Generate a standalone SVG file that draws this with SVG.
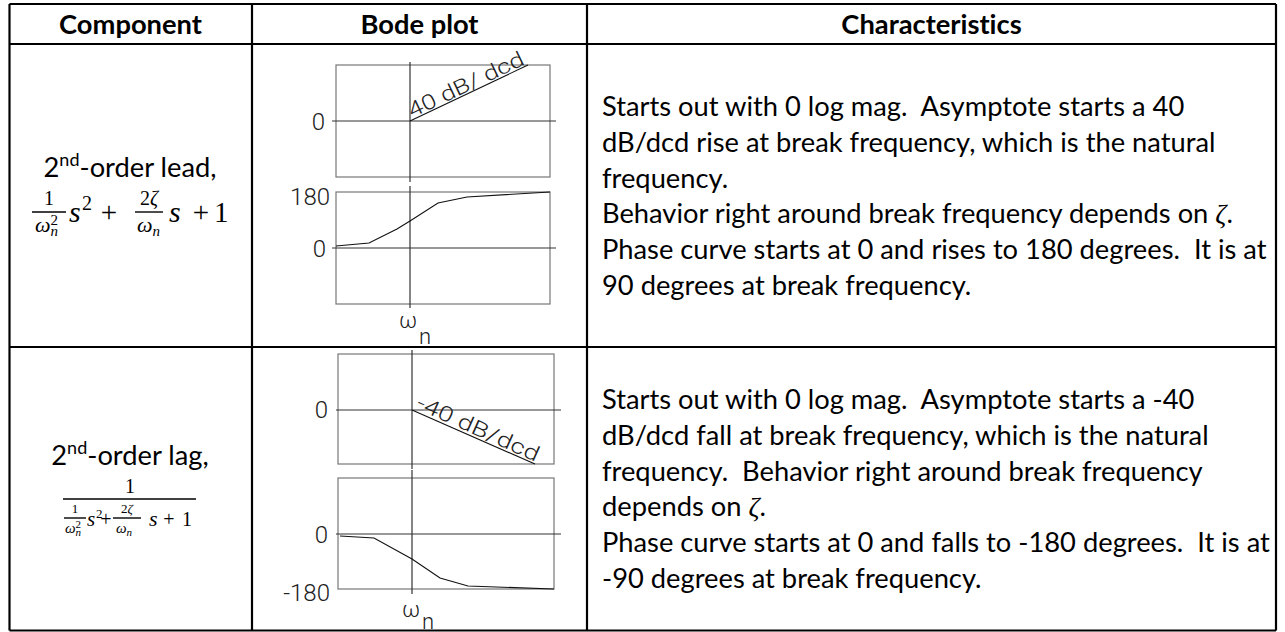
<svg xmlns="http://www.w3.org/2000/svg" width="1285" height="632" viewBox="0 0 1285 632">
<style>
  text{font-variant-ligatures:none}
  .grid{stroke:#000;stroke-width:2.2;fill:none}
  .hdr{font-family:Lato,'Liberation Sans',sans-serif;font-weight:700;font-size:27.3px;fill:#000;text-anchor:middle}
  .body{font-family:Lato,'Liberation Sans',sans-serif;font-size:27.3px;fill:#000;white-space:pre}
  .cap{font-family:Lato,'Liberation Sans',sans-serif;font-size:27.3px;fill:#000;text-anchor:middle}
  .box{fill:none;stroke:#777;stroke-width:1.2}
  .axis{stroke:#333;stroke-width:1.2}
  .curve{fill:none;stroke:#111;stroke-width:1.1}
  .tick{font-family:Roboto,'DejaVu Sans',sans-serif;font-weight:300;font-size:24px;fill:#222;text-anchor:end}
  .slant{font-family:Roboto,'DejaVu Sans',sans-serif;font-weight:300;font-size:21px;fill:#222}
  .om{font-family:Roboto,'DejaVu Sans',sans-serif;font-weight:300;font-size:22px;fill:#222}
  .m{font-family:'Liberation Serif',serif;fill:#000}
  .mi{font-family:'Liberation Serif',serif;font-style:italic;fill:#000}
  .up{font-style:normal}
  .zeta{font-family:'Liberation Serif',serif;font-style:italic}
  .bar{stroke:#000;stroke-width:1.4}
</style>
<rect width="1285" height="632" fill="#fff"/>

<!-- table rules -->
<g id="table" class="grid">
  <line x1="9.5" y1="4" x2="1276" y2="4"/>
  <line x1="9.5" y1="44" x2="1276" y2="44"/>
  <line x1="9.5" y1="347" x2="1276" y2="347"/>
  <line x1="9.5" y1="630.5" x2="1276" y2="630.5"/>
  <line x1="9.5" y1="4" x2="9.5" y2="630.5"/>
  <line x1="252" y1="4" x2="252" y2="630.5"/>
  <line x1="587" y1="4" x2="587" y2="630.5"/>
  <line x1="1276" y1="4" x2="1276" y2="630.5"/>
</g>

<!-- header cells -->
<g id="header">
  <text class="hdr" x="130.5" y="34">Component</text>
  <text class="hdr" x="419.5" y="34">Bode plot</text>
  <text class="hdr" x="931.5" y="34">Characteristics</text>
</g>

<!-- row 1: second-order lead, (1/wn^2) s^2 + (2 zeta/wn) s + 1 -->
<g id="lead-component">
  <text class="cap" x="130" y="177">2<tspan font-size="18" dy="-11">nd</tspan><tspan dy="11">-order lead,</tspan></text>
  <text class="m" x="49" y="205" font-size="20" text-anchor="middle">1</text>
  <line class="bar" x1="32" y1="212" x2="66" y2="212"/>
  <text class="mi" x="35" y="232" font-size="22">ω<tspan font-size="15" dy="4">n</tspan><tspan class="up" font-size="15" dx="-7.5" dy="-11">2</tspan></text>
  <text class="mi" x="69" y="222" font-size="30">s</text>
  <text class="m" x="82" y="210" font-size="20">2</text>
  <text class="m" x="109" y="222" font-size="29" text-anchor="middle">+</text>
  <text class="m" x="149" y="205" font-size="20" text-anchor="middle">2<tspan class="zeta">ζ</tspan></text>
  <line class="bar" x1="135" y1="212" x2="163" y2="212"/>
  <text class="mi" x="137" y="232" font-size="22">ω<tspan font-size="15" dy="4">n</tspan></text>
  <text class="mi" x="169" y="222" font-size="30">s</text>
  <text class="m" x="201" y="222" font-size="29" text-anchor="middle">+</text>
  <text class="m" x="214" y="222" font-size="29">1</text>
</g>

<g id="lead-bode">
  <rect class="box" x="336" y="65" width="214" height="112"/>
  <line class="axis" x1="410" y1="62" x2="410" y2="182"/>
  <line class="axis" x1="332" y1="121" x2="556" y2="121"/>
  <line class="curve" x1="410" y1="121" x2="528" y2="65"/>
  <text class="tick" x="325" y="130">0</text>
  <text class="slant" transform="translate(412,118) rotate(-25.4)" textLength="126" lengthAdjust="spacingAndGlyphs">40 dB/ dcd</text>

  <rect class="box" x="336" y="192" width="214" height="112"/>
  <line class="axis" x1="410" y1="186" x2="410" y2="308"/>
  <line class="axis" x1="332" y1="248" x2="556" y2="248"/>
  <polyline class="curve" points="336,246 369,243 397,229 410,221 438,203 467,197 550,192"/>
  <text class="tick" x="330" y="205">180</text>
  <text class="tick" x="326" y="257">0</text>
  <text class="om" x="399" y="328">ω</text>
  <text class="om" x="419" y="344">n</text>
</g>

<g id="lead-notes" class="body">
  <text xml:space="preserve" x="602" y="116">Starts out with 0 log mag.  Asymptote starts a 40</text>
  <text xml:space="preserve" x="602" y="151.8">dB/dcd rise at break frequency, which is the natural</text>
  <text xml:space="preserve" x="602" y="187.6">frequency.</text>
  <text xml:space="preserve" x="602" y="223.4">Behavior right around break frequency depends on <tspan class="zeta">ζ</tspan>.</text>
  <text xml:space="preserve" x="602" y="259.2">Phase curve starts at 0 and rises to 180 degrees.  It is at</text>
  <text xml:space="preserve" x="602" y="295">90 degrees at break frequency.</text>
</g>

<!-- row 2: second-order lag, 1 / ((1/wn^2) s^2 + (2 zeta/wn) s + 1) -->
<g id="lag-component">
  <text class="cap" x="130" y="465">2<tspan font-size="18" dy="-11">nd</tspan><tspan dy="11">-order lag,</tspan></text>
  <text class="m" x="130" y="493" font-size="20" text-anchor="middle">1</text>
  <line class="bar" x1="63" y1="499" x2="196" y2="499"/>
  <text class="m" x="75" y="513" font-size="13" text-anchor="middle">1</text>
  <line class="bar" x1="64" y1="518" x2="86" y2="518"/>
  <text class="mi" x="65" y="533" font-size="15">ω<tspan font-size="11" dy="3">n</tspan><tspan class="up" font-size="11" dx="-5.5" dy="-8">2</tspan></text>
  <text class="mi" x="87" y="526" font-size="21">s</text>
  <text class="m" x="96" y="518" font-size="13">2</text>
  <text class="m" x="106" y="526" font-size="20" text-anchor="middle">+</text>
  <text class="m" x="127" y="513" font-size="13" text-anchor="middle">2<tspan class="zeta">ζ</tspan></text>
  <line class="bar" x1="113" y1="518" x2="141" y2="518"/>
  <text class="mi" x="116" y="533" font-size="15">ω<tspan font-size="11" dy="3">n</tspan></text>
  <text class="mi" x="149" y="526" font-size="22">s</text>
  <text class="m" x="169" y="526" font-size="20" text-anchor="middle">+</text>
  <text class="m" x="182" y="526" font-size="20">1</text>
</g>

<g id="lag-bode">
  <rect class="box" x="338" y="354" width="216" height="110"/>
  <line class="axis" x1="412" y1="350" x2="412" y2="469"/>
  <line class="axis" x1="336" y1="410" x2="561" y2="410"/>
  <line class="curve" x1="412" y1="410" x2="535" y2="464"/>
  <text class="tick" x="328" y="418">0</text>
  <text class="slant" transform="translate(415,408) rotate(24.1)" textLength="132" lengthAdjust="spacingAndGlyphs">-40 dB/dcd</text>

  <rect class="box" x="338" y="478" width="216" height="111"/>
  <line class="axis" x1="412" y1="470" x2="412" y2="594"/>
  <line class="axis" x1="336" y1="534" x2="561" y2="534"/>
  <polyline class="curve" points="340,536 374,538 412,559 440,578 468,586 554,589"/>
  <text class="tick" x="328" y="543">0</text>
  <text class="tick" x="330" y="601">-180</text>
  <text class="om" x="402" y="617">ω</text>
  <text class="om" x="422" y="629">n</text>
</g>

<g id="lag-notes" class="body">
  <text xml:space="preserve" x="602" y="409">Starts out with 0 log mag.  Asymptote starts a -40</text>
  <text xml:space="preserve" x="602" y="444.8">dB/dcd fall at break frequency, which is the natural</text>
  <text xml:space="preserve" x="602" y="480.6">frequency.  Behavior right around break frequency</text>
  <text xml:space="preserve" x="602" y="516.4">depends on <tspan class="zeta">ζ</tspan>.</text>
  <text xml:space="preserve" x="602" y="552.2">Phase curve starts at 0 and falls to -180 degrees.  It is at</text>
  <text xml:space="preserve" x="602" y="588">-90 degrees at break frequency.</text>
</g>
</svg>
